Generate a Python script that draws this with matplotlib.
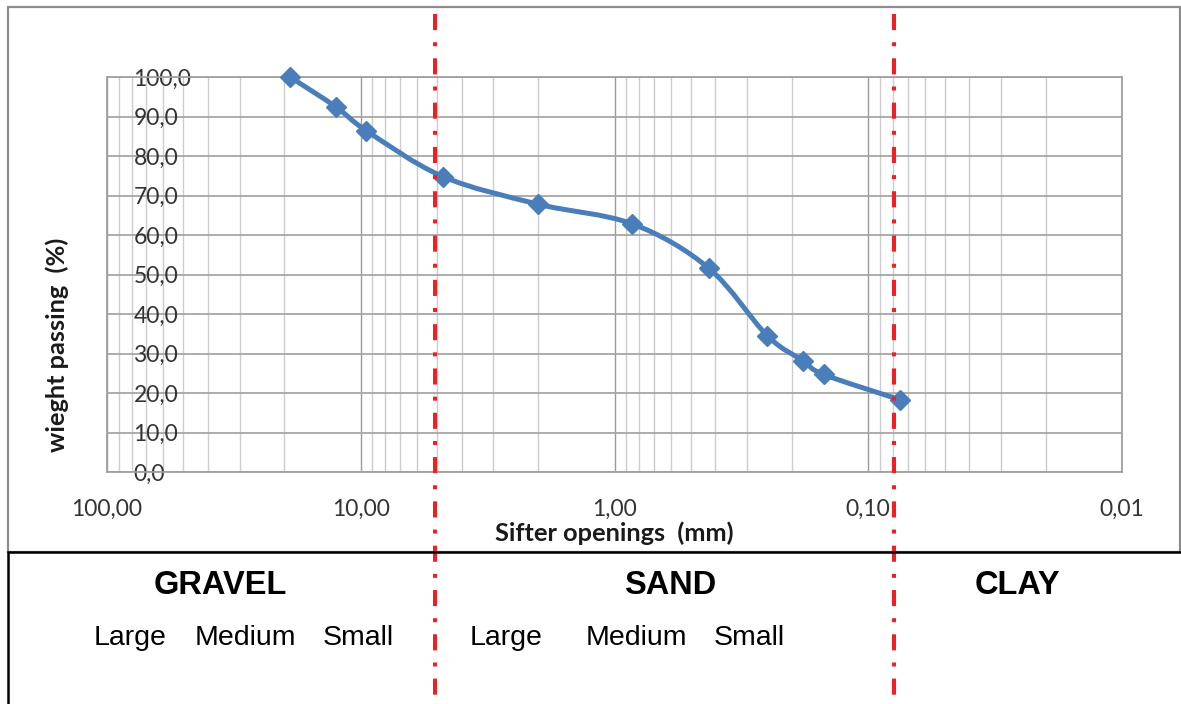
import numpy as np
import matplotlib.pyplot as plt
import matplotlib.transforms as mtransforms
from matplotlib.path import Path
from matplotlib.patches import PathPatch, Rectangle
from matplotlib.ticker import LogLocator, NullFormatter

# sieve analysis data
sieve_mm = [19.0, 12.5, 9.5, 4.75, 2.0, 0.85, 0.425, 0.25, 0.18, 0.15, 0.075]
passing = [100.0, 92.4, 86.4, 74.8, 67.8, 62.8, 51.6, 34.5, 28.1, 24.7, 18.3]

x_ticks = [100, 10, 1, 0.1, 0.01]
x_tick_labels = ["100,00", "10,00", "1,00", "0,10", "0,01"]
y_ticks = [0, 10, 20, 30, 40, 50, 60, 70, 80, 90, 100]
y_tick_labels = ["0,0", "10,0", "20,0", "30,0", "40,0", "50,0", "60,0",
                 "70,0", "80,0", "90,0", "100,0"]

zone_limits_mm = [5.1, 0.079]
zone_names = ["GRAVEL", "SAND", "CLAY"]
zone_name_x = [220, 670, 1017]          # pixel centres
sub_names = ["Large", "Medium", "Small", "Large", "Medium", "Small"]
sub_name_x = [130, 245, 358, 506, 636, 749]

W, H = 1181, 704
fig = plt.figure(figsize=(W / 100, H / 100), dpi=100)
fx = lambda px: px / W
fy = lambda py: 1 - py / H

# frames
fig.patches.append(Rectangle((fx(8), fy(552)), fx(1180) - fx(8), fy(7) - fy(552),
                             transform=fig.transFigure, fill=False,
                             edgecolor="#8c8c8c", lw=1.6))
fig.patches.append(Rectangle((fx(8), fy(706)), fx(1185) - fx(8), fy(552) - fy(706),
                             transform=fig.transFigure, fill=False,
                             edgecolor="black", lw=1.8, clip_on=False))

ax = fig.add_axes([fx(107), fy(472), fx(1122) - fx(107), fy(77) - fy(472)])
ax.set_xscale("log")
ax.set_xlim(100, 0.01)
ax.set_ylim(0, 100)

ax.set_xticks(x_ticks, x_tick_labels)
ax.xaxis.set_minor_locator(LogLocator(base=10, subs=range(2, 10), numticks=20))
ax.xaxis.set_minor_formatter(NullFormatter())
ax.set_yticks(y_ticks, y_tick_labels)

ax.grid(True, which="major", axis="x", color="#9a9a9a", lw=1.0)
ax.grid(True, which="minor", axis="x", color="#cccccc", lw=1.0)
ax.grid(True, which="major", axis="y", color="#a6a6a6", lw=1.3)
ax.set_axisbelow(True)
for s in ax.spines.values():
    s.set_color("#a0a0a0")
    s.set_linewidth(1.3)

ax.tick_params(axis="both", which="both", length=0)
ax.tick_params(axis="y", pad=-19)
ax.tick_params(axis="x", pad=19)
for lab in ax.get_yticklabels():
    lab.set_ha("left")
for lab in ax.get_xticklabels() + ax.get_yticklabels():
    lab.set_fontfamily("Lato")
    lab.set_fontsize(16.5)
    lab.set_color("#333333")

# smoothed line (Catmull-Rom as cubic bezier, in log space)
P = np.column_stack([np.log10(sieve_mm), passing])
n = len(P)
verts = [P[0]]
for i in range(n - 1):
    p0 = P[i - 1] if i > 0 else P[i]
    p1, p2 = P[i], P[i + 1]
    p3 = P[i + 2] if i + 2 < n else P[i + 1]
    verts += [p1 + (p2 - p0) / 6, p2 - (p3 - p1) / 6, p2]
verts = np.array(verts)
verts[:, 0] = 10 ** verts[:, 0]
codes = [Path.MOVETO] + [Path.CURVE4] * (3 * (n - 1))
blue = "#4a7ebb"
ax.add_patch(PathPatch(Path(verts, codes), fill=False, edgecolor=blue,
                       lw=3.6, capstyle="round", joinstyle="round", zorder=3))
ax.plot(sieve_mm, passing, "D", ms=10, color=blue, zorder=4, clip_on=False)

# axis titles
fig.text(fx(614), fy(533), "Sifter openings  (mm)", ha="center", va="center",
         fontsize=18.3, fontweight="bold", family="Lato", color="#1a1a1a")
fig.text(fx(57), fy(345), "wieght passing  (%)", ha="center", va="center",
         rotation=90, fontsize=18.3, fontweight="bold", family="Lato", color="#1a1a1a")

# zone dividers across whole figure
tr = mtransforms.blended_transform_factory(ax.transData, fig.transFigure)
for z in zone_limits_mm:
    ax.plot([z, z], [fy(14), 0], transform=tr, color="#ee2024", lw=2.9,
            linestyle=(0, (4, 3, 1, 3)), clip_on=False, zorder=5)

for name, px in zip(zone_names, zone_name_x):
    fig.text(fx(px), fy(585), name, ha="center", va="center", fontsize=23.5,
             fontweight="bold", family="Liberation Sans")
for name, px in zip(sub_names, sub_name_x):
    fig.text(fx(px), fy(638), name, ha="center", va="center", fontsize=20.5,
             family="Liberation Sans")

fig.savefig("out.png", dpi=100)
